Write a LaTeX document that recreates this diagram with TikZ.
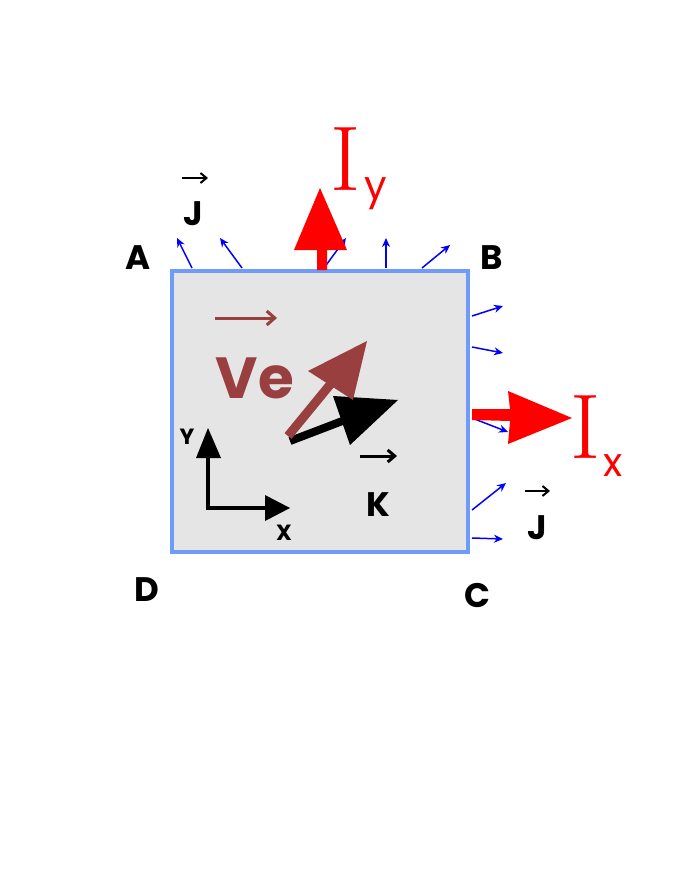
\documentclass[tikz,border=0pt]{standalone}
\usepackage{fontspec}
\setsansfont{Poppins}
\usetikzlibrary{arrows.meta}
\definecolor{edgeblue}{HTML}{6E9CF8}
\definecolor{boxgray}{HTML}{E5E5E5}
\definecolor{vebrown}{HTML}{9A3F3F}
\tikzset{
 jarrow/.style={blue,line width=1.5pt,-{Stealth[length=9pt,width=8pt]}},
 lbl/.style={font=\sffamily\bfseries\fontsize{34}{34}\selectfont},
 small/.style={font=\sffamily\bfseries\fontsize{22}{22}\selectfont},
 vec/.style={font=\fontsize{26}{26}\selectfont},
}
\begin{document}
\begin{tikzpicture}[x=1pt,y=-1pt]
\useasboundingbox (0,0) rectangle (692,896);
\node[draw=edgeblue,fill=boxgray,line width=3.5pt,minimum width=296pt,minimum height=281pt,inner sep=0pt] (sq) at (320,411.5) {};
% J arrows top
\foreach \a/\b/\c/\d in {192/268/177/238, 242/268/220/238, 324/268/346/238, 386/268/386/238, 422/268/450/245,
472/316/503/306, 472/347/503/353, 472/418/508/432, 472/510/506/483, 472/538/503/539}
 \draw[jarrow] (\a,\b) -- (\c,\d);
% Iy
\fill[red] (317,270) -- (317,250) -- (294,250) -- (320,188) -- (347,250) -- (327,250) -- (327,270) -- cycle;
\node[red,anchor=base west,inner sep=0pt,font=\fontsize{92}{92}\selectfont] (iy) at (330,190) {I};
\node[red,anchor=base west,inner sep=0pt,font=\sffamily\fontsize{40}{40}\selectfont] (iys) at (364,200) {y};
% Ix
\fill[red] (472,409) -- (510,409) -- (508,391) -- (572,418) -- (508,444) -- (510,421) -- (472,420) -- cycle;
\node[red,anchor=base west,inner sep=0pt,font=\fontsize{92}{92}\selectfont] (ix) at (570,458) {I};
\node[red,anchor=base west,inner sep=0pt,font=\sffamily\fontsize{40}{40}\selectfont] (ixs) at (603,476) {x};
% K arrow
\draw[line width=8pt] (290,441) -- (345,420);
\fill (333,396) -- (398,400) -- (350,445) -- cycle;
% Ve arrow
\draw[vebrown,line width=9pt] (288,436) -- (338,375);
\fill[vebrown] (308,371) -- (367,341) -- (353,400) -- cycle;
% labels
\node[vebrown,font=\sffamily\bfseries\fontsize{58}{58}\selectfont,inner sep=0pt,anchor=base] (ve) at (255,398) {Ve};
\draw[vebrown,line width=3pt,-{Straight Barb[length=8pt,width=14pt]}] (215,318) -- (277,318);
\node[lbl,inner sep=0pt,anchor=base] (k) at (378,516) {K};
\draw[line width=3pt,-{Straight Barb[length=7pt,width=12pt]}] (360,456) -- (397,456);
\node[lbl,inner sep=0pt,anchor=base] (j1) at (193,225) {J};
\draw[line width=2pt,-{Straight Barb[length=6pt,width=10pt]}] (182,178) -- (208,178);
\node[lbl,inner sep=0pt,anchor=base] (j2) at (537,539) {J};
\draw[line width=2pt,-{Straight Barb[length=6pt,width=10pt]}] (525,491) -- (550,491);
% axes
\coordinate (o) at (208,508);
\draw[line width=4pt] (208,458) -- (o) -- (265,508);
\fill (196,458) -- (208,428) -- (221,458) -- cycle;
\fill (265,495) -- (290,508) -- (265,521) -- cycle;
\node[small,inner sep=0pt] (ylab) at (187,437) {Y};
\node[small,inner sep=0pt] (xlab) at (284,533) {X};
% corners
\node[lbl,inner sep=0pt] (A) at (138,258) {A};
\node[lbl,inner sep=0pt] (B) at (492,258) {B};
\node[lbl,inner sep=0pt] (D) at (147,590) {D};
\node[lbl,inner sep=0pt] (C) at (477,596) {C};
\end{tikzpicture}
\end{document}
